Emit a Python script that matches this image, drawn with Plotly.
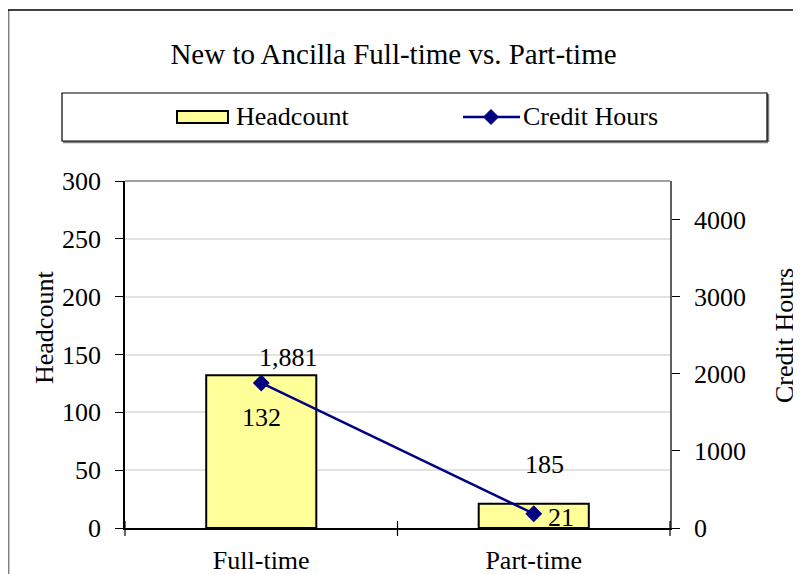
import plotly.graph_objects as go

# ---- data ----
categories = ["Full-time", "Part-time"]
headcount = [132, 21]
credit_hours = [1881, 185]
headcount_labels = ["132", "21"]
credit_labels = ["1,881", "185"]
left_ticks = [0, 50, 100, 150, 200, 250, 300]
right_ticks = [0, 1000, 2000, 3000, 4000]
title_text = "New to Ancilla Full-time vs. Part-time"

# ---- layout geometry (page pixels; the page body adds an 8px offset) ----
OFF = 8
W, H = 801 - OFF, 574 - OFF
L, R, T, B = 125, 670, 181, 528   # plot area in page pixels


def px(x):
    return (x - L) / (R - L)


def py(y):
    return (B - y) / (B - T)


FONT = "Liberation Serif"
NAVY = "#000080"
YELLOW = "#FFFF99"
FS = 26

fig = go.Figure()
fig.add_trace(go.Bar(
    x=categories, y=headcount, name="Headcount", width=0.404,
    marker=dict(color=YELLOW, line=dict(color="black", width=2)),
    yaxis="y", hoverinfo="x+y"))
fig.add_trace(go.Scatter(
    x=categories, y=credit_hours, name="Credit Hours", mode="lines+markers",
    line=dict(color=NAVY, width=2.5),
    marker=dict(symbol="diamond", size=13, color=NAVY),
    yaxis="y2"))

shapes = []
# outer chart frame
shapes.append(dict(type="line", xref="paper", yref="paper", x0=px(8.7), x1=px(8.7), y0=py(10), y1=py(580),
                   line=dict(color="#808080", width=1.5)))
shapes.append(dict(type="line", xref="paper", yref="paper", x0=px(8), x1=px(805), y0=py(10), y1=py(10),
                   line=dict(color="black", width=1.5)))
# plot area top border
shapes.append(dict(type="line", xref="paper", yref="paper", x0=0, x1=1, y0=1, y1=1,
                   line=dict(color="#808080", width=1.5)))
# x-axis crossing ticks at category boundaries
for xb in [0, 0.5, 1]:
    shapes.append(dict(type="line", xref="paper", yref="paper", x0=xb, x1=xb,
                       y0=py(B + 8), y1=py(B - 7), line=dict(color="black", width=1.2)))
# legend box
shapes.append(dict(type="line", xref="paper", yref="paper", x0=px(63), x1=px(768), y0=py(142), y1=py(142),
                   line=dict(color="#808080", width=2.5)))
shapes.append(dict(type="line", xref="paper", yref="paper", x0=px(768), x1=px(768), y0=py(94), y1=py(142),
                   line=dict(color="#808080", width=2.5)))
shapes.append(dict(type="rect", xref="paper", yref="paper", x0=px(62), x1=px(767), y0=py(141), y1=py(93),
                   line=dict(color="black", width=1.2), fillcolor="white"))
# legend symbols
shapes.append(dict(type="rect", xref="paper", yref="paper", x0=px(177), x1=px(228), y0=py(123), y1=py(111),
                   line=dict(color="black", width=2), fillcolor=YELLOW))
shapes.append(dict(type="line", xref="paper", yref="paper", x0=px(463), x1=px(520), y0=py(117), y1=py(117),
                   line=dict(color=NAVY, width=2.5)))
cx, cy, d = 491, 117, 7.5
shapes.append(dict(type="path", xref="paper", yref="paper",
                   path=f"M {px(cx - d)},{py(cy)} L {px(cx)},{py(cy - d)} L {px(cx + d)},{py(cy)} L {px(cx)},{py(cy + d)} Z",
                   fillcolor=NAVY, line=dict(color=NAVY, width=1)))

annotations = []
annotations.append(dict(text="Headcount", xref="paper", yref="paper", x=px(234), y=py(116),
                        xanchor="left", yanchor="middle", showarrow=False, font=dict(family=FONT, size=FS, color="black")))
annotations.append(dict(text="Credit Hours", xref="paper", yref="paper", x=px(521), y=py(116),
                        xanchor="left", yanchor="middle", showarrow=False, font=dict(family=FONT, size=FS, color="black")))
# axis titles
annotations.append(dict(text="Headcount", xref="paper", yref="paper", x=px(44), y=py(328), textangle=-90,
                        xanchor="center", yanchor="middle", showarrow=False, font=dict(family=FONT, size=FS, color="black")))
annotations.append(dict(text="Credit Hours", xref="paper", yref="paper", x=px(784), y=py(336), textangle=-90,
                        xanchor="center", yanchor="middle", showarrow=False, font=dict(family=FONT, size=FS, color="black")))
# data labels
hc_shift = [(0, -42), (27, -14)]
ch_shift = [(27, 25), (11, 49)]
for i, cat in enumerate(categories):
    annotations.append(dict(text=headcount_labels[i], x=cat, y=headcount[i], xref="x", yref="y",
                            xshift=hc_shift[i][0], yshift=hc_shift[i][1], showarrow=False,
                            xanchor="center", yanchor="middle", font=dict(family=FONT, size=FS, color="black")))
    annotations.append(dict(text=credit_labels[i], x=cat, y=credit_hours[i], xref="x", yref="y2",
                            xshift=ch_shift[i][0], yshift=ch_shift[i][1], showarrow=False,
                            xanchor="center", yanchor="middle", font=dict(family=FONT, size=FS, color="black")))

fig.update_layout(
    width=W, height=H,
    margin=dict(l=L - OFF, r=801 - R, t=T - OFF, b=574 - B, pad=0, autoexpand=False),
    paper_bgcolor="white", plot_bgcolor="white",
    showlegend=False,
    font=dict(family=FONT, size=FS, color="black"),
    title=dict(text=title_text, x=px(393.5), xref="paper", xanchor="center",
               y=1 - (54 - OFF) / H, yref="container", yanchor="middle",
               font=dict(family=FONT, size=29, color="black")),
    bargap=0.6,
    xaxis=dict(type="category", range=[-0.5, 1.5], showline=True, linecolor="black", linewidth=1.5,
               ticks="", ticklabelstandoff=8, showgrid=False, zeroline=False, automargin=False,
               tickfont=dict(family=FONT, size=FS)),
    yaxis=dict(range=[0, 300], tickvals=left_ticks, ticks="outside", ticklen=8, tickcolor="black", tickwidth=1.2,
               showline=True, linecolor="black", linewidth=1.5, showgrid=True, gridcolor="#e2e2e2", gridwidth=1.5,
               zeroline=False, ticklabelstandoff=9, automargin=False, tickfont=dict(family=FONT, size=FS)),
    yaxis2=dict(range=[0, 4500], tickvals=right_ticks, overlaying="y", side="right", ticks="outside", ticklen=8,
                tickcolor="black", tickwidth=1.2, showline=True, linecolor="#606060", linewidth=1.5,
                showgrid=False, zeroline=False, ticklabelstandoff=9, automargin=False,
                tickfont=dict(family=FONT, size=FS)),
    yaxis3=dict(range=[0, 300], tickvals=left_ticks, overlaying="y", side="left", ticks="inside", ticklen=7,
                tickcolor="black", tickwidth=1.2, showticklabels=False, showline=False, showgrid=False,
                zeroline=False, automargin=False),
    yaxis4=dict(range=[0, 4500], tickvals=right_ticks, overlaying="y", side="right", ticks="inside", ticklen=7,
                tickcolor="black", tickwidth=1.2, showticklabels=False, showline=False, showgrid=False,
                zeroline=False, automargin=False),
    shapes=shapes,
    annotations=annotations,
)

fig.write_html("out.html")
